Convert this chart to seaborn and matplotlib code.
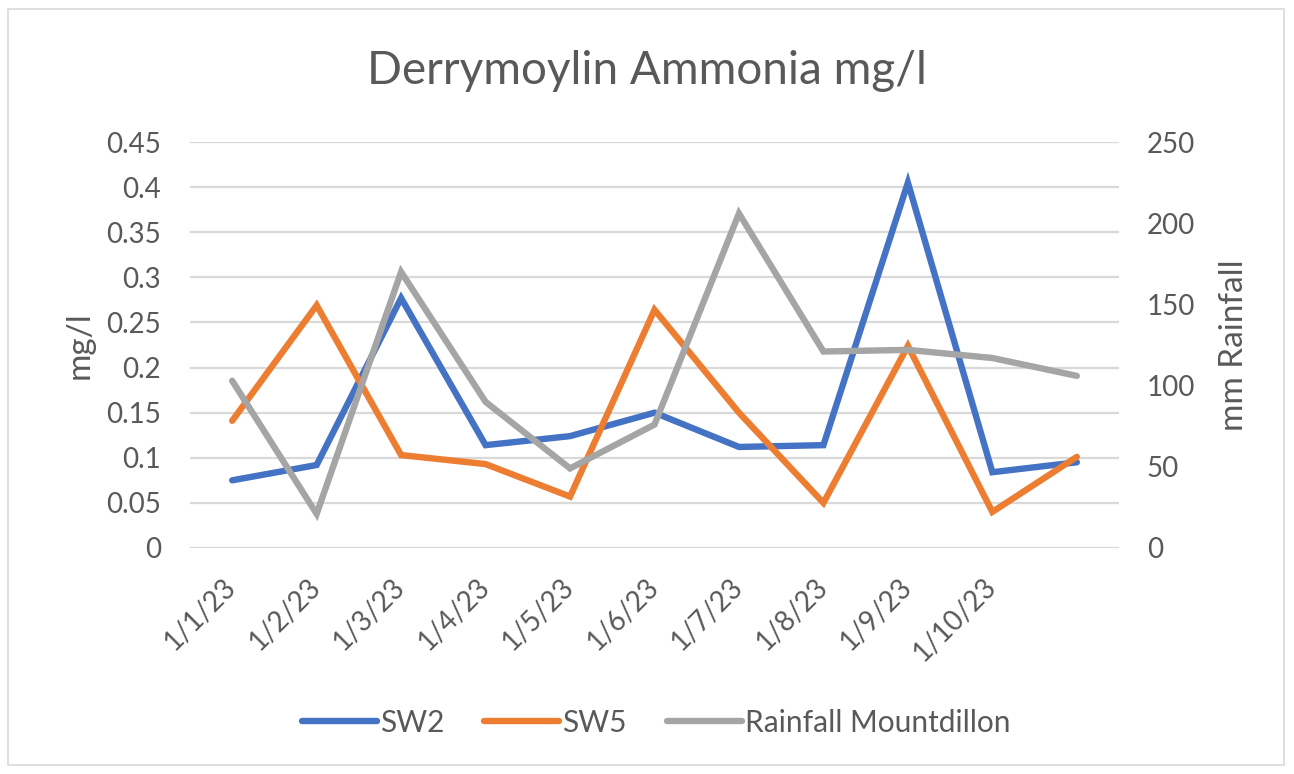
import pandas as pd
import numpy as np
import matplotlib
matplotlib.use("Agg")
import matplotlib.pyplot as plt
from matplotlib.patches import Rectangle
from matplotlib.lines import Line2D
import seaborn as sns

sns.set_theme(style="white")
plt.rcParams['font.family'] = ['Lato', 'DejaVu Sans']

# data
dates = ['1/1/23', '1/2/23', '1/3/23', '1/4/23', '1/5/23', '1/6/23',
         '1/7/23', '1/8/23', '1/9/23', '1/10/23', '']
sw2 = [0.075, 0.092, 0.277, 0.114, 0.124, 0.150, 0.112, 0.114, 0.405, 0.084, 0.095]
sw5 = [0.141, 0.269, 0.103, 0.093, 0.057, 0.264, 0.150, 0.050, 0.224, 0.040, 0.101]
rainfall = [103, 21, 170, 90, 49, 76, 206, 121, 122, 117, 106]

blue = '#4472C4'
orange = '#ED7D31'
grey = '#A5A5A5'
text_col = '#595959'

pos = np.arange(len(dates))
df = pd.DataFrame({'pos': np.concatenate([pos, pos]),
                   'value': sw2 + sw5,
                   'series': ['SW2'] * len(pos) + ['SW5'] * len(pos)})
rain = pd.DataFrame({'pos': pos, 'rain': rainfall})

fig = plt.figure(figsize=(12.94, 7.74), dpi=100)
ax = fig.add_axes([0.1468, 0.292, 0.718, 0.5245])
ax2 = ax.twinx()

# gridlines follow left axis
ax.set_ylim(0, 0.45)
ax.set_yticks(np.arange(0, 0.451, 0.05))
ax.set_yticklabels(['0', '0.05', '0.1', '0.15', '0.2', '0.25', '0.3', '0.35', '0.4', '0.45'])
ax.grid(axis='y', color='#D9D9D9', linewidth=1.6)
ax.set_axisbelow(True)

sns.lineplot(data=df, x='pos', y='value', hue='series', palette=[blue, orange],
             linewidth=4.6, ax=ax, legend=False, solid_capstyle='round', solid_joinstyle='miter')
sns.lineplot(data=rain, x='pos', y='rain', color=grey, linewidth=4.6, ax=ax2,
             legend=False, solid_capstyle='round', solid_joinstyle='miter')

ax2.set_ylim(0, 250)
ax2.set_yticks(np.arange(0, 251, 50))
ax2.grid(False)

ax.set_xlim(-0.5, len(dates) - 0.5)
ax.set_xticks(pos)
ax.set_xticklabels(dates, rotation=45, ha='right', va='center', rotation_mode='anchor')

for a in (ax, ax2):
    for s in a.spines.values():
        s.set_visible(False)
    a.tick_params(length=0, labelsize=20, colors=text_col)
ax.tick_params(axis='y', pad=21)
ax.tick_params(axis='x', pad=25)
ax2.tick_params(axis='y', pad=20)

ax.set_xlabel('')
ax.set_ylabel('mg/l', fontsize=24, color=text_col, labelpad=8)
ax2.set_ylabel('mm Rainfall', fontsize=24, color=text_col, labelpad=17)

fig.suptitle('Derrymoylin Ammonia mg/l', fontsize=33, color=text_col, y=0.935)

handles = [Line2D([], [], color=c, linewidth=4.6, solid_capstyle='round') for c in (blue, orange, grey)]
fig.legend(handles, ['SW2', 'SW5', 'Rainfall Mountdillon'], loc='center', ncol=3,
           bbox_to_anchor=(0.507, 0.066), frameon=False, fontsize=21.5, handlelength=2.5,
           handletextpad=0.1, columnspacing=1.35, labelcolor=text_col)

fig.patches.append(Rectangle((0.006, 0.012), 0.986, 0.976, transform=fig.transFigure,
                             fill=False, edgecolor='#D9D9D9', linewidth=1.2))

fig.savefig('out.png', dpi=100, facecolor='white')
